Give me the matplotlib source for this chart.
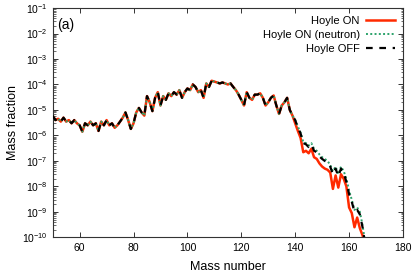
import matplotlib
matplotlib.use("Agg")
import matplotlib.pyplot as plt
import numpy as np
from matplotlib.ticker import LogLocator, FixedLocator

plt.rcParams['font.family'] = ['Liberation Sans', 'DejaVu Sans']
plt.rcParams['mathtext.fontset'] = 'custom'
plt.rcParams['mathtext.rm'] = 'Liberation Sans'

# mass numbers where the three runs coincide (50..139)
mass_head = list(range(50, 140))
frac_head = [
    6e-6, 4e-6, 4.5e-6, 3.5e-6, 5e-6, 3.5e-6, 4e-6, 3e-6, 4e-6, 3e-6,      # 50-59
    2.5e-6, 1.4e-6, 3e-6, 2.5e-6, 3.5e-6, 2.5e-6, 3e-6, 1.5e-6, 3.5e-6, 2.5e-6,  # 60-69
    4e-6, 2.5e-6, 3e-6, 2e-6, 2.5e-6, 3.5e-6, 5e-6, 8e-6, 4e-6, 1.8e-6,    # 70-79
    3e-6, 8e-6, 1.2e-5, 8e-6, 6e-6, 3.5e-5, 2e-5, 9e-6, 3e-5, 5e-5,        # 80-89
    1.5e-5, 3.5e-5, 2.5e-5, 4.5e-5, 3.5e-5, 5e-5, 4e-5, 6e-5, 3e-5, 5e-5,  # 90-99
    7e-5, 6e-5, 1e-4, 8e-5, 5e-5, 6e-5, 3e-5, 1.1e-4, 8e-5, 1.4e-4,        # 100-109
    1.3e-4, 1.2e-4, 1.1e-4, 1.2e-4, 1.1e-4, 1.0e-4, 1.1e-4, 8e-5, 6e-5, 4e-5,  # 110-119
    2.5e-5, 1.5e-5, 5e-5, 3e-5, 2.5e-5, 4e-5, 4e-5, 4.5e-5, 3e-5, 1.5e-5,  # 120-129
    2e-5, 3e-5, 3.7e-5, 1.5e-5, 7e-6, 1.5e-5, 2e-5, 3e-5, 1e-5, 6e-6,      # 130-139
]

# tails where the runs differ (140..166)
mass_tail = list(range(140, 167))
hoyle_on_tail = [
    3e-6, 1.5e-6, 8e-7, 2.2e-7, 2.5e-7, 2e-7, 3e-7, 1.4e-7, 1.2e-7, 8e-8,
    6e-8, 5e-8, 4.5e-8, 3.5e-8, 8e-9, 2.7e-8, 9e-9, 3e-8, 2e-8, 1e-8,
    1.5e-9, 9e-10, 2.5e-10, 6e-10, 2.3e-10, 1.2e-10, 5e-11,
]
hoyle_neutron_tail = [
    4e-6, 2.2e-6, 1.3e-6, 5.5e-7, 5e-7, 4e-7, 5e-7, 3e-7, 2.5e-7, 1.8e-7,
    1.4e-7, 1.2e-7, 1e-7, 7e-8, 4e-8, 6e-8, 3e-8, 6e-8, 4e-8, 2e-8,
    7e-9, 3e-9, 1.2e-9, 1.5e-9, 1e-9, 3e-10, 6e-11,
]
hoyle_off_tail = [
    4e-6, 2e-6, 1.2e-6, 5e-7, 4.5e-7, 3.5e-7, 4.5e-7, 2.5e-7, 2.2e-7, 1.5e-7,
    1.2e-7, 1e-7, 9e-8, 6e-8, 3e-8, 5e-8, 2.5e-8, 5e-8, 3.5e-8, 1.5e-8,
    5e-9, 2.5e-9, 1e-9, 1.2e-9, 8e-10, 2.5e-10, 5e-11,
]

mass = mass_head + mass_tail
hoyle_on = frac_head + hoyle_on_tail
hoyle_neutron = frac_head + hoyle_neutron_tail
hoyle_off = frac_head + hoyle_off_tail

fig = plt.figure(figsize=(4.15, 2.77), dpi=100)
ax = fig.add_axes([0.127, 0.143, 0.844, 0.828])

ax.plot(mass, hoyle_on, color="#ff2a00", lw=1.8, label="Hoyle ON", zorder=2)
ax.plot(mass, hoyle_neutron, color="#2ca36b", lw=1.4, ls=(0, (1, 1.2)),
        label="Hoyle ON (neutron)", zorder=3)
ax.plot(mass, hoyle_off, color="black", lw=1.6, ls=(0, (3, 3)),
        label="Hoyle OFF", zorder=4)

ax.set_yscale("log")
ax.set_xlim(50, 180)
ax.set_ylim(1e-10, 1e-1)
ax.xaxis.set_major_locator(FixedLocator([60, 80, 100, 120, 140, 160, 180]))
ax.yaxis.set_major_locator(LogLocator(base=10, numticks=20))
ax.yaxis.set_minor_locator(LogLocator(base=10, subs=np.arange(2, 10), numticks=20))

ax.tick_params(which="both", direction="in", top=True, right=True,
               labelsize=7.5, colors="#333333", labelcolor="black")
ax.tick_params(which="major", length=3.5, width=0.7)
ax.tick_params(which="minor", length=1.8, width=0.5)
ax.tick_params(axis="x", pad=4)
for s in ax.spines.values():
    s.set_color("#333333")
    s.set_linewidth(0.8)

ax.set_xlabel("Mass number", fontsize=9, labelpad=6)
ax.set_ylabel("Mass fraction", fontsize=9, labelpad=2)
ax.text(0.012, 0.955, "(a)", transform=ax.transAxes, fontsize=10, va="top")

ax.legend(loc="upper right", frameon=False, markerfirst=False, fontsize=8,
          handlelength=2.6, labelspacing=0.35, borderaxespad=0.3, handletextpad=0.6)

fig.savefig("out.png", dpi=100)
